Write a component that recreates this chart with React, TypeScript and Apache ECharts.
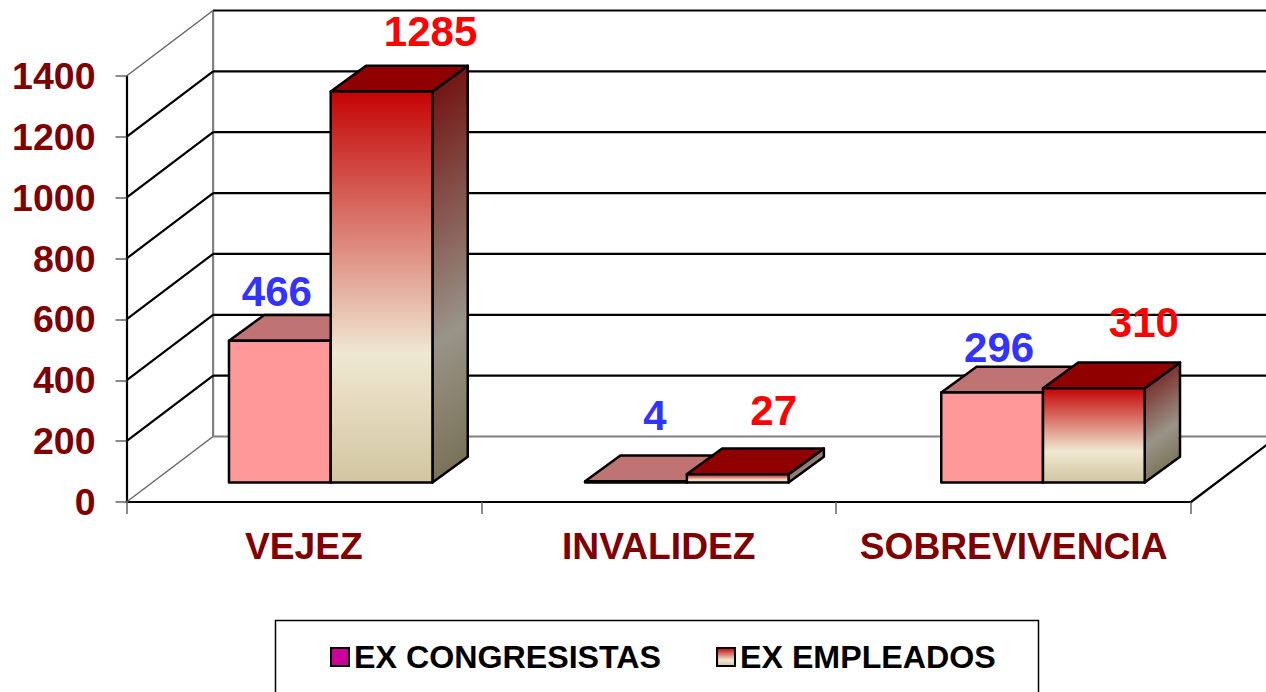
import React, { useEffect, useRef } from "react";
import * as echarts from "echarts";

const categories = ["VEJEZ", "INVALIDEZ", "SOBREVIVENCIA"];
const exCongresistas = [466, 4, 296];
const exEmpleados = [1285, 27, 310];
const yTicks = [0, 200, 400, 600, 800, 1000, 1200, 1400];

const WALL_DX = 86.6;
const WALL_DY = -65.5;
const BAR_DX = 35.3;
const BAR_DY = -25.7;
const SHIFT_X = 26.8;
const SHIFT_Y = -19.5;
const BAR_RATIO = 0.2867;
const CATEGORY_DRIFT = 1.3;
const FONT = '"Liberation Sans", Arial, sans-serif';
const DARK_RED = "#7F0000";

// label placement relative to the bar's front-top centre [dx, dy]
const congresistasLabelNudge = [[-3, -49], [19, -66], [7, -45]];
const empleadosLabelNudge = [[49, -60], [36, -64], [50, -66]];

const vGrad = (stops: [number, string][], x2 = 0, y2 = 1) =>
  new echarts.graphic.LinearGradient(0, 0, x2, y2, stops.map(([offset, color]) => ({ offset, color })));

const frontGrad = () =>
  vGrad([[0, "#C40404"], [0.67, "#EFE8D2"], [1, "#D2C6A0"]]);
const sideGrad = (h: number) =>
  vGrad([[0, "#6E0A08"], [0.67, "#999488"], [1, "#7A7257"]], -BAR_DY / (h - BAR_DY), 1);

const renderWall = (params: any, api: any) => {
  const v = api.value(1);
  const y = api.coord([0, v])[1];
  const cs = params.coordSys;
  const x0 = cs.x;
  const x1 = cs.x + cs.width;
  const edge = v === 0 || v === 1400;
  const children: any[] = [
    {
      type: "line",
      shape: { x1: x0, y1: y, x2: x0 + WALL_DX, y2: y + WALL_DY },
      style: { stroke: edge ? "#666666" : "#000000", lineWidth: edge ? 1.5 : 2.2 },
    },
    {
      type: "line",
      shape: { x1: x0 + WALL_DX, y1: y + WALL_DY, x2: x1 + WALL_DX, y2: y + WALL_DY },
      style: { stroke: v === 0 ? "#808080" : "#000000", lineWidth: 2.2 },
    },
  ];
  if (v === 0) {
    children.push(
      {
        type: "line",
        shape: { x1: x0 + WALL_DX, y1: y + WALL_DY, x2: x0 + WALL_DX, y2: cs.y + WALL_DY },
        style: { stroke: "#808080", lineWidth: 2.2 },
      },
      {
        type: "line",
        shape: { x1: x1, y1: y, x2: x1 + WALL_DX, y2: y + WALL_DY },
        style: { stroke: "#000000", lineWidth: 2.2 },
      },
    );
  }
  return { type: "group", children };
};

const makeBarRenderer =
  (seriesPos: number, front: () => any, side: (h: number) => any, top: string, labelColor: string, nudge: number[][], stroke: string) =>
  (_params: any, api: any) => {
    const idx = api.value(0);
    const val = api.value(1);
    const [cx, yTop0] = api.coord([idx, val]);
    const yBase0 = api.coord([idx, 0])[1];
    const w = api.size([1, 0])[0] * BAR_RATIO;
    const xl = cx + SHIFT_X + idx * CATEGORY_DRIFT + (seriesPos === 0 ? -w : 0);
    const xr = xl + w;
    const yt = yTop0 + SHIFT_Y;
    const yb = yBase0 + SHIFT_Y;
    const common = { stroke, lineWidth: 2.5, lineJoin: "round" };
    return {
      type: "group",
      children: [
        {
          type: "polygon",
          shape: { points: [[xr, yt], [xr + BAR_DX, yt + BAR_DY], [xr + BAR_DX, yb + BAR_DY], [xr, yb]] },
          style: { fill: side(yb - yt), ...common },
        },
        {
          type: "polygon",
          shape: { points: [[xl, yt], [xl + BAR_DX, yt + BAR_DY], [xr + BAR_DX, yt + BAR_DY], [xr, yt]] },
          style: { fill: top, ...common },
        },
        {
          type: "rect",
          shape: { x: xl, y: yt, width: w, height: yb - yt },
          style: { fill: front(), ...common },
        },
        {
          type: "text",
          x: (xl + xr) / 2 + nudge[idx][0],
          y: yt + nudge[idx][1],
          style: {
            text: String(val),
            fill: labelColor,
            font: `bold 42px ${FONT}`,
            align: "center",
            verticalAlign: "middle",
          },
        },
      ],
    };
  };

export default function App() {
  const ref = useRef<HTMLDivElement>(null);
  useEffect(() => {
    const chart = echarts.init(ref.current!, null, { renderer: "svg" });
    chart.setOption({
      animation: false,
      backgroundColor: "#FFFFFF",
      grid: { left: 126.5, right: 75, top: 76, bottom: 190 },
      xAxis: {
        type: "category",
        data: categories,
        axisLine: { show: true, lineStyle: { color: "#000000", width: 2.2 } },
        axisTick: { show: true, length: 12, alignWithLabel: false, lineStyle: { color: "#666666", width: 1.5 } },
        axisLabel: { color: DARK_RED, fontFamily: FONT, fontWeight: "bold", fontSize: 37.2, margin: 25, interval: 0 },
      },
      yAxis: {
        type: "value",
        min: 0,
        max: 1400,
        interval: 200,
        splitLine: { show: false },
        axisLine: { show: true, lineStyle: { color: "#000000", width: 2.2 } },
        axisTick: { show: true, length: 11, lineStyle: { color: "#666666", width: 1.5 } },
        axisLabel: {
          color: DARK_RED,
          fontFamily: FONT,
          fontWeight: "bold",
          fontSize: 37.5,
          margin: 31,
          padding: [2, 0, 0, 0],
          formatter: (v: number) => String(v),
        },
      },
      legend: {
        left: 330,
        top: 641,
        padding: 0,
        itemWidth: 18,
        itemHeight: 18,
        itemGap: 55,
        selectedMode: false,
        textStyle: { color: "#000000", fontFamily: FONT, fontWeight: "bold", fontSize: 32.2 },
        data: [
          { name: "EX CONGRESISTAS", icon: "rect", itemStyle: { color: "#CC0099", borderColor: "#000000", borderWidth: 2 } },
          { name: "EX EMPLEADOS", icon: "rect", itemStyle: { color: frontGrad(), borderColor: "#000000", borderWidth: 2 } },
        ],
      },
      graphic: [
        {
          type: "rect",
          silent: true,
          z: -1,
          shape: { x: 275.5, y: 620.5, width: 763, height: 90 },
          style: { fill: "#FFFFFF", stroke: "#000000", lineWidth: 1.5 },
        },
      ],
      series: [
        {
          type: "custom",
          name: "wall",
          silent: true,
          z: 1,
          clip: false,
          encode: { x: 0, y: 1 },
          data: yTicks.map((v) => [0, v]),
          renderItem: renderWall,
        },
        {
          type: "custom",
          name: "EX CONGRESISTAS",
          z: 2,
          clip: false,
          encode: { x: 0, y: 1 },
          itemStyle: { color: "#CC0099" },
          data: exCongresistas.map((v, i) => [i, v]),
          renderItem: makeBarRenderer(0, () => "#FF9999", () => "#BF7373", "#BF7373", "#3333FF", congresistasLabelNudge, "#000000"),
        },
        {
          type: "custom",
          name: "EX EMPLEADOS",
          z: 3,
          clip: false,
          encode: { x: 0, y: 1 },
          data: exEmpleados.map((v, i) => [i, v]),
          renderItem: makeBarRenderer(1, frontGrad, sideGrad, "#900000", "#FF0000", empleadosLabelNudge, "#000000"),
        },
      ],
    });
    return () => chart.dispose();
  }, []);
  return (
    <div
      ref={ref}
      style={{ position: "absolute", left: 0, top: 0, width: 1266, height: 692, overflow: "hidden" }}
    />
  );
}
